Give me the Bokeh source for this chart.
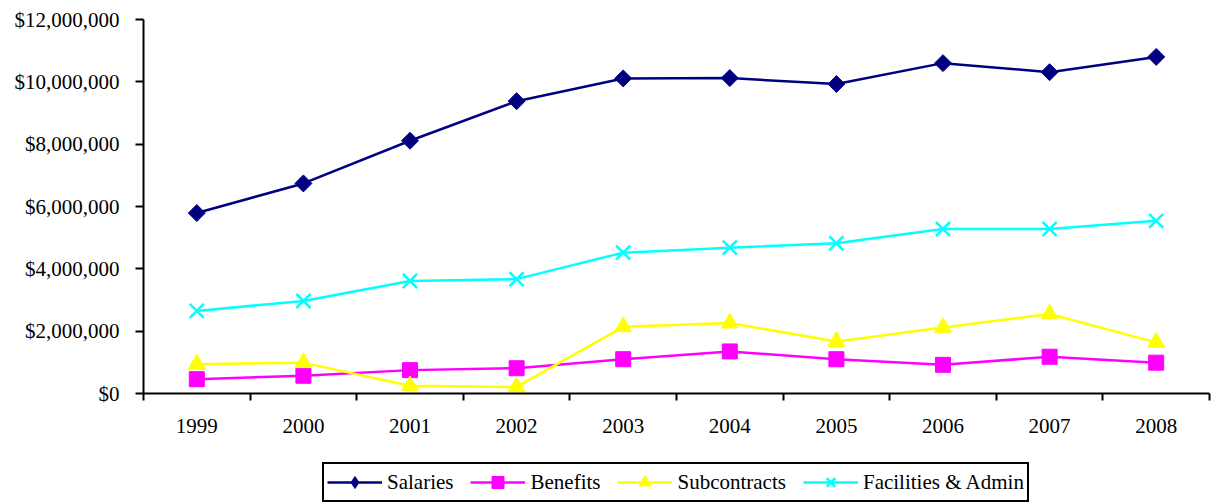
import math
from bokeh.plotting import figure
from bokeh.layouts import column
from bokeh.models import (FixedTicker, NumeralTickFormatter, Range1d, Legend, LegendItem)
from bokeh.embed import file_html
from bokeh.resources import INLINE

years = [1999, 2000, 2001, 2002, 2003, 2004, 2005, 2006, 2007, 2008]
salaries = [5.79e6, 6.74e6, 8.11e6, 9.38e6, 10.11e6, 10.12e6, 9.93e6, 10.60e6, 10.31e6, 10.80e6]
benefits = [0.46e6, 0.57e6, 0.75e6, 0.81e6, 1.10e6, 1.35e6, 1.10e6, 0.92e6, 1.18e6, 0.99e6]
subcontracts = [0.94e6, 0.99e6, 0.25e6, 0.21e6, 2.14e6, 2.26e6, 1.67e6, 2.12e6, 2.55e6, 1.64e6]
facilities = [2.65e6, 2.97e6, 3.61e6, 3.67e6, 4.52e6, 4.68e6, 4.82e6, 5.28e6, 5.28e6, 5.54e6]
y_ticks = [0, 2e6, 4e6, 6e6, 8e6, 10e6, 12e6]

FONT = "Liberation Serif"
W = 1211

p = figure(width=W, height=445, output_backend="svg", toolbar_location=None,
           x_range=Range1d(years[0] - 0.5, years[-1] + 0.5),
           y_range=Range1d(0, 12e6),
           min_border_left=143, min_border_right=2, min_border_top=19, min_border_bottom=52)
p.outline_line_color = None
p.xgrid.visible = False
p.ygrid.visible = False
p.background_fill_color = "white"
p.border_fill_color = "white"

# x axis: labels at category centres, ticks at category boundaries
p.xaxis.ticker = FixedTicker(ticks=years, minor_ticks=[y - 0.5 for y in years] + [years[-1] + 0.5])
p.xaxis.major_tick_out = 0
p.xaxis.major_tick_in = 0
p.xaxis.minor_tick_out = 7
p.xaxis.minor_tick_in = 0
p.xaxis.minor_tick_line_color = "black"
p.xaxis.minor_tick_line_width = 2
p.xaxis.major_label_standoff = 18
p.xaxis.axis_line_width = 2
p.xaxis.axis_line_color = "black"

p.yaxis.ticker = FixedTicker(ticks=y_ticks, minor_ticks=[])
p.yaxis.formatter = NumeralTickFormatter(format="$0,0")
p.yaxis.major_tick_out = 8
p.yaxis.major_tick_in = 0
p.yaxis.major_tick_line_width = 2
p.yaxis.major_label_standoff = 16
p.yaxis.axis_line_width = 2
p.yaxis.axis_line_color = "black"

for ax in (p.xaxis, p.yaxis):
    ax.major_label_text_font = FONT
    ax.major_label_text_font_size = "21px"
    ax.major_label_text_color = "black"

# name, values, colour, chart marker, chart size, angle, legend marker
series = [
    ("Salaries", salaries, "#000080", "square", 12, math.pi / 4, "diamond"),
    ("Benefits", benefits, "#FF00FF", "square", 15, 0.0, "square"),
    ("Subcontracts", subcontracts, "#FFFF00", "triangle", 17, 0.0, "triangle"),
    ("Facilities & Admin", facilities, "#00FFFF", "x", 20, 0.0, "x"),
]

# legend figure below the chart
lf = figure(width=W, height=57, output_backend="svg", toolbar_location=None,
            x_range=Range1d(0, 1), y_range=Range1d(0, 1),
            x_axis_type=None, y_axis_type=None,
            min_border_left=0, min_border_right=0, min_border_top=0, min_border_bottom=0)
lf.outline_line_color = None
lf.xgrid.visible = False
lf.ygrid.visible = False
lf.background_fill_color = "white"
lf.border_fill_color = "white"

items = []
for name, vals, color, marker, size, ang, lmarker in series:
    p.line(years, vals, line_color=color, line_width=2.5)
    if marker == "x":
        p.scatter(years, vals, marker=marker, size=size, line_color=color, line_width=2.5)
        ls = lf.scatter([5], [5], marker=lmarker, size=size, line_color=color, line_width=2.5)
    else:
        p.scatter(years, vals, marker=marker, size=size, angle=ang,
                  fill_color=color, line_color=color)
        ls = lf.scatter([5], [5], marker=lmarker, size=size,
                        fill_color=color, line_color=color)
    ll = lf.line([5, 6], [5, 6], line_color=color, line_width=2.5)
    items.append(LegendItem(label=name, renderers=[ll, ls]))

legend = Legend(items=items, orientation="horizontal", location=(179, 0))
legend.label_text_font = FONT
legend.label_text_font_size = "21px"
legend.label_text_color = "black"
legend.glyph_width = 55
legend.glyph_height = 30
legend.label_height = 30
legend.label_standoff = 5
legend.spacing = 17
legend.padding = 3
legend.margin = 0
legend.border_line_color = "black"
legend.border_line_alpha = 1
legend.border_line_width = 2
legend.background_fill_color = "white"
legend.background_fill_alpha = 1
lf.add_layout(legend, "center")

open("out.html", "w").write(file_html(column(p, lf), INLINE))
